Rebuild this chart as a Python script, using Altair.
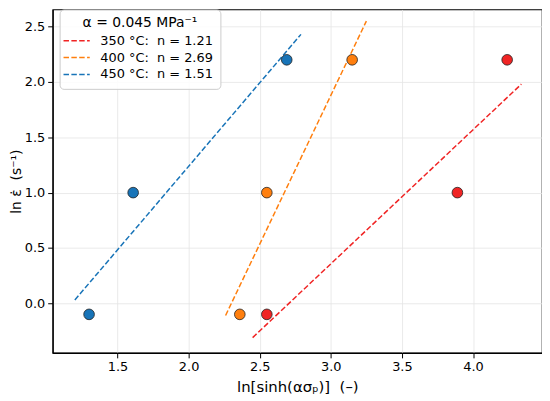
import altair as alt
import pandas as pd

# data
labels = ["350\u00a0°C:\u00a0\u00a0n = 1.21", "400\u00a0°C:\u00a0\u00a0n = 2.69", "450\u00a0°C:\u00a0\u00a0n = 1.51"]
colors = ["#f02424", "#ff7f0e", "#1874b8"]

pt_x_350 = [2.55, 3.89, 4.24]
pt_x_400 = [2.36, 2.55, 3.15]
pt_x_450 = [1.30, 1.61, 2.69]
pt_y = [-0.10, 1.00, 2.20]

# fitted line end points (x0, x1), (y0, y1)
line_x_350 = [2.45, 4.34]
line_y_350 = [-0.31, 1.98]
line_x_400 = [2.26, 3.25]
line_y_400 = [-0.11, 2.55]
line_x_450 = [1.20, 2.79]
line_y_450 = [0.03, 2.43]

x_ticks = [1.5, 2.0, 2.5, 3.0, 3.5, 4.0]
y_ticks = [0.0, 0.5, 1.0, 1.5, 2.0, 2.5]

pts = pd.DataFrame({
    "x": pt_x_350 + pt_x_400 + pt_x_450,
    "y": pt_y * 3,
    "label": [labels[0]] * 3 + [labels[1]] * 3 + [labels[2]] * 3,
})
lines = pd.DataFrame({
    "x": line_x_350 + line_x_400 + line_x_450,
    "y": line_y_350 + line_y_400 + line_y_450,
    "label": [labels[0]] * 2 + [labels[1]] * 2 + [labels[2]] * 2,
})

FONT = "DejaVu Sans"
xscale = alt.Scale(domain=[1.044, 4.485], nice=False, zero=False)
yscale = alt.Scale(domain=[-0.448, 2.655], nice=False, zero=False)
cscale = alt.Scale(domain=labels, range=colors)

xaxis = alt.Axis(values=x_ticks, format=".1f", title="ln[sinh(ασₚ)]\u00a0\u00a0(–)")
yaxis = alt.Axis(values=y_ticks, format=".1f", title="ln ε̇\u00a0\u00a0(s⁻¹)", titleFontSize=14)

line_layer = alt.Chart(lines).mark_line(strokeDash=[5.5, 2.4], strokeWidth=1.5, clip=True).encode(
    x=alt.X("x:Q", scale=xscale, axis=xaxis),
    y=alt.Y("y:Q", scale=yscale, axis=yaxis),
    stroke=alt.Stroke("label:N", scale=cscale, sort=labels,
                      legend=alt.Legend(title="α = 0.045 MPa⁻¹", orient="none",
                                        legendX=7, legendY=0,
                                        symbolType="M-1.45,0H1.6", symbolDash=[5.5, 2.4],
                                        symbolStrokeWidth=1.5, symbolSize=300,
                                        labelOffset=15)),
    detail="label:N",
)

pt_layer = alt.Chart(pts).mark_point(filled=True, size=115, stroke="#222222",
                                     strokeWidth=0.8, opacity=1, shape="circle").encode(
    x=alt.X("x:Q", scale=xscale),
    y=alt.Y("y:Q", scale=yscale),
    fill=alt.Fill("label:N", scale=cscale, legend=None),
)

chart = alt.layer(line_layer, pt_layer).properties(
    width=493, height=346,
    autosize=alt.AutoSizeParams(type="none"),
    padding={"left": 45, "top": 0, "right": 0, "bottom": 46},
).configure_view(
    stroke="black", strokeWidth=1.2
).configure_axis(
    labelFont=FONT, titleFont=FONT, labelFontSize=13, titleFontSize=15,
    labelColor="black", titleColor="black", titleFontWeight="normal",
    tickColor="black", tickSize=5, tickWidth=1, domainColor="black", domainWidth=1.2,
    gridColor="#e4e4e4", gridWidth=0.8, labelPadding=3,
).configure_axisX(
    titlePadding=6,
).configure_axisY(
    titlePadding=1,
).configure_legend(
    titleFont=FONT, labelFont=FONT, titleFontSize=14, labelFontSize=13,
    titleFontWeight="normal", titleColor="black", labelColor="black",
    fillColor="rgba(255,255,255,0.85)", strokeColor="#cccccc", cornerRadius=4,
    padding=7, rowPadding=0, titleAnchor="middle", titlePadding=1,
)

chart.save("out.html", embed_options={"renderer": "svg", "actions": False})
